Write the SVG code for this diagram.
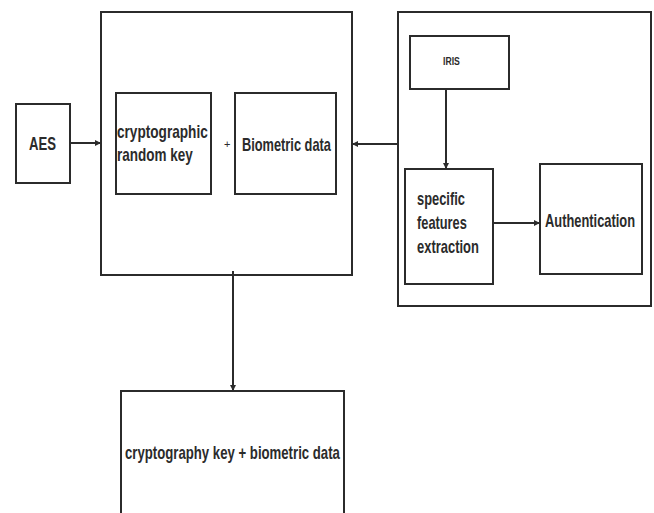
<svg xmlns="http://www.w3.org/2000/svg" width="654" height="513" viewBox="0 0 654 513">
<style>
.box{fill:#fff;stroke:#2b2b2b;stroke-width:2}
.t{font-family:"Liberation Sans",Arial,sans-serif;font-weight:bold;fill:#2b2b2b;font-size:18.5px}
.c{stroke:#2b2b2b;stroke-width:2;fill:none;marker-end:url(#a)}
</style>
<defs>
<marker id="a" markerWidth="6" markerHeight="6" refX="5" refY="3" orient="auto" markerUnits="userSpaceOnUse">
<path d="M0,0 L6,3 L0,6 z" fill="#2b2b2b"/>
</marker>
</defs>
<rect width="654" height="513" fill="#fff"/>
<g id="main"><rect class="box" x="101" y="12" width="251" height="263"/></g>
<g id="right"><rect class="box" x="398" y="12" width="253" height="294"/></g>
<g id="aes"><rect class="box" x="16" y="104" width="54" height="79"/>
<text class="t" transform="translate(29,150) scale(0.75,1)" textLength="36" lengthAdjust="spacingAndGlyphs">AES</text></g>
<g id="crypto"><rect class="box" x="116" y="93" width="95" height="101"/>
<text class="t" transform="translate(117,138) scale(0.75,1)" textLength="121" lengthAdjust="spacingAndGlyphs">cryptographic</text>
<text class="t" transform="translate(117,161) scale(0.75,1)" textLength="101" lengthAdjust="spacingAndGlyphs">random key</text></g>
<text class="t" x="224" y="148" style="font-size:11px;font-weight:normal">+</text>
<g id="bio"><rect class="box" x="235" y="93" width="101" height="101"/>
<text class="t" transform="translate(242,151) scale(0.75,1)" textLength="118.5" lengthAdjust="spacingAndGlyphs">Biometric data</text></g>
<g id="iris"><rect class="box" x="410" y="36" width="99" height="53"/>
<text class="t" transform="translate(443,65) scale(0.75,1)" style="font-size:10px" textLength="22.5" lengthAdjust="spacingAndGlyphs">IRIS</text></g>
<g id="sfe"><rect class="box" x="405" y="169" width="88" height="115"/>
<text class="t" transform="translate(417,205) scale(0.75,1)" textLength="64" lengthAdjust="spacingAndGlyphs">specific</text>
<text class="t" transform="translate(417,229) scale(0.75,1)" textLength="66.5" lengthAdjust="spacingAndGlyphs">features</text>
<text class="t" transform="translate(417,253) scale(0.75,1)" textLength="82.5" lengthAdjust="spacingAndGlyphs">extraction</text></g>
<g id="auth"><rect class="box" x="540" y="164" width="102" height="110"/>
<text class="t" transform="translate(545,227) scale(0.75,1)" textLength="120" lengthAdjust="spacingAndGlyphs">Authentication</text></g>
<g id="out"><rect class="box" x="121" y="391" width="223" height="124"/>
<text class="t" transform="translate(125,459) scale(0.75,1)" textLength="286.5" lengthAdjust="spacingAndGlyphs">cryptography key + biometric data</text></g>
<g id="connectors">
<path class="c" d="M70,143 H100"/>
<path class="c" d="M398,144 H353"/>
<path class="c" d="M446,89 V168"/>
<path class="c" d="M493,223 H539"/>
<path class="c" d="M233,271 V390"/>
</g>
</svg>
